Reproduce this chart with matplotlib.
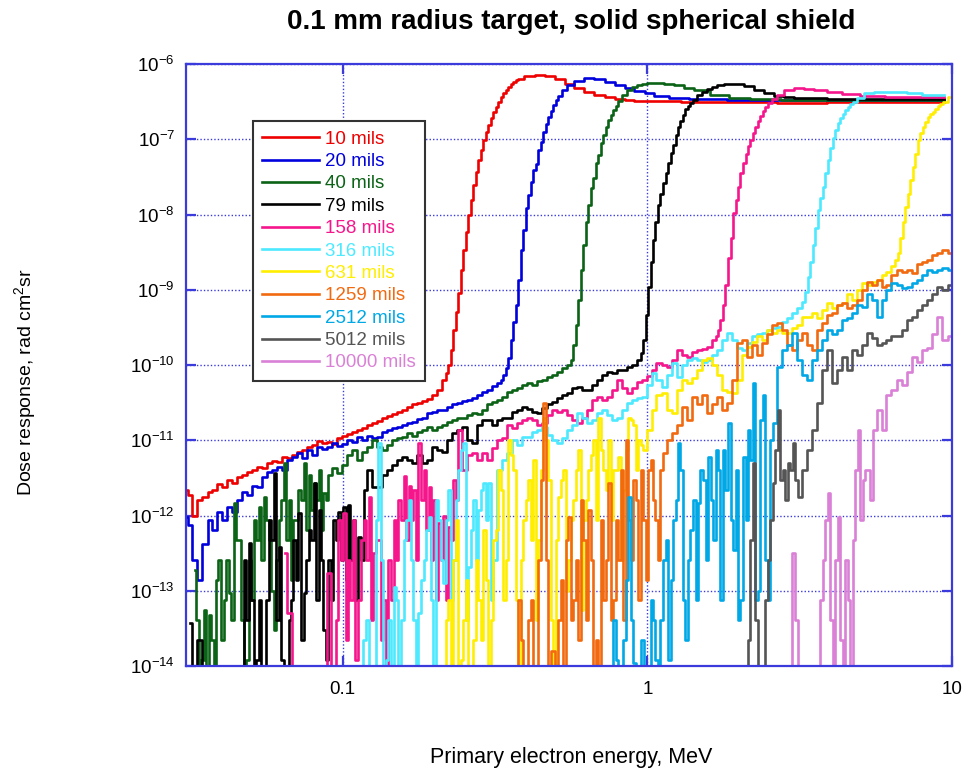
import matplotlib
matplotlib.use("Agg")
import matplotlib.pyplot as plt
from matplotlib.ticker import FixedLocator, NullLocator, LogFormatterSciNotation

plt.rcParams['font.family'] = ['Liberation Sans', 'DejaVu Sans']
plt.rcParams['mathtext.default'] = 'regular'
plt.rcParams['axes.unicode_minus'] = False

# (energy MeV, dose) pairs; 1e-15 marks points below the axis floor (no counts)
red_10 = [(0.0306,2.2e-12),(0.0315,1.9e-12),(0.0327,1.0e-12),(0.0340,1.6e-12),(0.0353,1.76e-12),(0.0367,2.05e-12),(0.0380,2.2e-12),(0.0395,2.6e-12),(0.0410,2.4e-12),(0.0426,3.0e-12),(0.0443,2.7e-12),(0.0460,3.2e-12),(0.0477,3.45e-12),(0.0496,3.8e-12),(0.0515,4.0e-12),(0.0535,4.4e-12),(0.0555,4.3e-12),(0.0577,5.0e-12),(0.0599,5.3e-12),(0.0622,5.15e-12),(0.0646,6.0e-12),(0.0670,5.8e-12),(0.0696,6.4e-12),(0.0723,7.0e-12),(0.0751,7.4e-12),(0.0780,8.1e-12),(0.0810,8.7e-12),(0.0841,9.7e-12),(0.0873,9.2e-12),(0.0906,9.4e-12),(0.0941,8.9e-12),(0.0977,1.06e-11),(0.1015,1.13e-11),(0.105,1.2e-11),(0.109,1.3e-11),(0.114,1.37e-11),(0.118,1.46e-11),(0.123,1.6e-11),(0.127,1.7e-11),(0.132,1.8e-11),(0.137,2.0e-11),(0.143,2.1e-11),(0.148,2.25e-11),(0.154,2.4e-11),(0.160,2.5e-11),(0.166,2.8e-11),(0.172,3.0e-11),(0.179,3.1e-11),(0.186,3.3e-11),(0.193,3.5e-11),(0.200,4.0e-11),(0.208,4.7e-11),(0.216,6.3e-11),(0.2201,7.8e-11),(0.224,1.0e-10),(0.2283,1.58e-10),(0.233,2.9e-10),(0.2374,5.1e-10),(0.242,9.1e-10),(0.2466,1.83e-9),(0.251,3.4e-9),(0.2558,5.85e-9),(0.261,9.8e-9),(0.2660,1.56e-8),(0.271,2.45e-8),(0.2762,3.67e-8),(0.281,5.3e-8),(0.2864,7.2e-8),(0.292,9.8e-8),(0.2976,1.25e-7),(0.303,1.55e-7),(0.3088,1.91e-7),(0.315,2.3e-7),(0.3210,2.7e-7),(0.327,3.1e-7),(0.3332,3.64e-7),(0.340,4.1e-7),(0.3465,4.5e-7),(0.353,4.95e-7),(0.3597,5.42e-7),(0.366,5.75e-7),(0.3730,6.1e-7),(0.380,6.3e-7),(0.410,6.9e-7),(0.443,7.1e-7),(0.477,6.9e-7),(0.515,6.3e-7),(0.555,5.4e-7),(0.598,4.8e-7),(0.645,4.2e-7),(0.696,3.9e-7),(0.751,3.6e-7),(0.810,3.45e-7),(0.873,3.3e-7),(0.941,3.2e-7),(1.09,3.2e-7),(1.48,3.1e-7),(2.16,3.1e-7),(3.15,3.05e-7),(4.60,3.1e-7),(6.70,3.1e-7),(9.42,3.1e-7)]

blue_20 = [(0.0306,9.5e-13),(0.0315,7.5e-13),(0.0327,2.6e-13),(0.0340,1.39e-13),(0.0353,4.2e-13),(0.0367,8.7e-13),(0.0380,6.4e-13),(0.0395,1.12e-12),(0.0410,8.7e-13),(0.0426,1.3e-12),(0.0443,1.12e-12),(0.0460,1.6e-12),(0.0477,2.05e-12),(0.0496,1.87e-12),(0.0515,2.5e-12),(0.0535,2.4e-12),(0.0555,3.2e-12),(0.0577,3.8e-12),(0.0599,4.0e-12),(0.0622,4.4e-12),(0.0646,4.0e-12),(0.0670,5.5e-12),(0.0696,6.0e-12),(0.0723,6.8e-12),(0.0751,5.8e-12),(0.0780,7.4e-12),(0.0810,6.4e-12),(0.0841,8.1e-12),(0.0873,7.7e-12),(0.0906,8.1e-12),(0.0941,9.2e-12),(0.0977,8.4e-12),(0.1015,8.9e-12),(0.105,1.0e-11),(0.109,9.4e-12),(0.114,1.1e-11),(0.118,1.0e-11),(0.123,1.13e-11),(0.127,1.06e-11),(0.132,1.1e-11),(0.137,1.3e-11),(0.143,1.37e-11),(0.148,1.46e-11),(0.154,1.5e-11),(0.160,1.6e-11),(0.166,1.7e-11),(0.172,1.75e-11),(0.179,1.9e-11),(0.186,2.0e-11),(0.193,2.3e-11),(0.200,2.35e-11),(0.208,2.5e-11),(0.216,2.5e-11),(0.224,2.8e-11),(0.233,3.0e-11),(0.242,3.1e-11),(0.251,3.3e-11),(0.261,3.4e-11),(0.271,3.6e-11),(0.281,4.0e-11),(0.292,4.4e-11),(0.303,4.7e-11),(0.315,5.3e-11),(0.327,5.8e-11),(0.3332,6.3e-11),(0.340,7.4e-11),(0.3465,9.1e-11),(0.353,1.24e-10),(0.3597,2.15e-10),(0.366,3.7e-10),(0.3730,6.3e-10),(0.380,1.35e-9),(0.3873,3.4e-9),(0.395,6.2e-9),(0.4025,1.22e-8),(0.410,1.8e-8),(0.4178,2.7e-8),(0.426,3.9e-8),(0.4341,4.7e-8),(0.443,7.2e-8),(0.4515,9.2e-8),(0.460,1.25e-7),(0.4688,1.6e-7),(0.477,2.0e-7),(0.4861,2.37e-7),(0.496,2.85e-7),(0.5055,3.3e-7),(0.515,3.75e-7),(0.535,4.5e-7),(0.555,5.3e-7),(0.598,5.95e-7),(0.645,6.5e-7),(0.696,6.3e-7),(0.751,5.75e-7),(0.810,5.3e-7),(0.873,4.8e-7),(0.941,4.35e-7),(1.02,4.1e-7),(1.09,3.75e-7),(1.27,3.5e-7),(1.48,3.45e-7),(2.16,3.3e-7),(3.15,3.3e-7),(4.60,3.35e-7),(6.70,3.3e-7),(9.42,3.3e-7)]

green_40 = [(0.0327,1.9e-13),(0.0340,1e-15),(0.0353,5.5e-14),(0.0367,4.8e-14),(0.0380,1e-15),(0.0395,2.6e-13),(0.0410,7.5e-14),(0.0426,9.3e-14),(0.0443,1.47e-12),(0.0460,4.7e-13),(0.0477,1e-15),(0.0496,2.6e-13),(0.0515,8.7e-13),(0.0535,1.3e-12),(0.0555,1.76e-12),(0.0577,4.7e-13),(0.0599,3.0e-14),(0.0622,8.7e-13),(0.0646,5.0e-12),(0.0670,1.6e-12),(0.0696,8.7e-13),(0.0723,2.2e-12),(0.0751,5.0e-12),(0.0780,3.45e-12),(0.0810,2.7e-12),(0.0841,4.0e-12),(0.0873,2.0e-12),(0.0906,3.45e-12),(0.0941,4.3e-12),(0.0977,3.7e-12),(0.1015,4.75e-12),(0.105,6.4e-12),(0.109,7.4e-12),(0.114,5.5e-12),(0.118,7.0e-12),(0.123,8.1e-12),(0.127,1.0e-11),(0.132,8.1e-12),(0.137,7.4e-12),(0.143,8.7e-12),(0.148,1.0e-11),(0.154,1.06e-11),(0.160,1.1e-11),(0.166,1.25e-11),(0.172,1.13e-11),(0.179,1.3e-11),(0.186,1.37e-11),(0.193,1.5e-11),(0.200,1.37e-11),(0.208,1.5e-11),(0.216,1.6e-11),(0.224,1.75e-11),(0.233,1.86e-11),(0.242,2.0e-11),(0.251,1.96e-11),(0.261,2.15e-11),(0.271,2.3e-11),(0.281,2.25e-11),(0.292,2.5e-11),(0.303,3.0e-11),(0.315,3.2e-11),(0.327,3.4e-11),(0.340,3.8e-11),(0.353,4.4e-11),(0.366,4.7e-11),(0.380,4.9e-11),(0.395,5.5e-11),(0.410,5.8e-11),(0.426,5.5e-11),(0.443,6.2e-11),(0.460,6.3e-11),(0.477,6.9e-11),(0.496,7.4e-11),(0.515,8.1e-11),(0.535,9.1e-11),(0.555,1.0e-10),(0.5656,1.16e-10),(0.576,1.86e-10),(0.5870,3.4e-10),(0.598,7.3e-10),(0.6094,1.83e-9),(0.622,3.9e-9),(0.6339,7.9e-9),(0.645,1.34e-8),(0.6573,2.25e-8),(0.670,3.1e-8),(0.6828,4.8e-8),(0.696,6.2e-8),(0.7093,8.9e-8),(0.723,1.14e-7),(0.7368,1.46e-7),(0.751,1.8e-7),(0.7653,2.1e-7),(0.780,2.45e-7),(0.7949,2.77e-7),(0.810,3.2e-7),(0.841,3.9e-7),(0.873,4.5e-7),(0.906,4.95e-7),(0.941,5.3e-7),(0.978,5.4e-7),(1.02,5.6e-7),(1.09,5.6e-7),(1.18,5.4e-7),(1.27,5.3e-7),(1.37,4.8e-7),(1.48,4.5e-7),(1.72,3.9e-7),(2.00,3.5e-7),(2.33,3.45e-7),(3.15,3.3e-7),(4.60,3.35e-7),(6.70,3.3e-7),(9.42,3.3e-7),
    (0.0333,4.1e-14),(0.0346,1.2e-14),(0.0360,1e-15),(0.0374,2.2e-14),(0.0387,1.39e-13),(0.0403,2.2e-14),(0.0418,2.6e-13),(0.0434,4.1e-14),(0.0451,4.7e-13),(0.0469,4.1e-14),(0.0486,1.2e-14),(0.0505,7.5e-14),(0.0525,4.7e-13),(0.0545,2.6e-13),(0.0566,8.7e-13),(0.0588,1.0e-13),(0.0610,2.6e-13),(0.0634,1.6e-12),(0.0658,4.7e-13),(0.0683,1.39e-13),(0.0709,8.7e-13),(0.0737,1.6e-12),(0.0765,6.4e-13),(0.0795,1.18e-12),(0.0825,1.6e-12),(0.0857,6.4e-13),(0.0890,1.6e-12)]

black_79 = [(0.0315,3.7e-14),(0.0327,1e-15),(0.0340,2.2e-14),(0.0353,1e-15),(0.0460,1e-15),(0.0477,2.6e-13),(0.0496,4.3e-13),(0.0515,1e-15),(0.0535,7.5e-14),(0.0555,1e-15),(0.0577,8.7e-13),(0.0599,3.7e-12),(0.0622,3.8e-13),(0.0646,1e-15),(0.0670,4.1e-14),(0.0696,4.7e-13),(0.0723,1.08e-12),(0.0751,9.3e-14),(0.0780,6.4e-13),(0.0810,2.7e-12),(0.0841,1.18e-12),(0.0873,3.0e-14),(0.0906,2.6e-13),(0.0941,8.7e-13),(0.0977,1.12e-12),(0.1015,1.3e-12),(0.105,1.4e-12),(0.109,8.7e-13),(0.114,5.2e-13),(0.118,2.2e-12),(0.123,4.0e-12),(0.127,2.4e-12),(0.132,2.4e-12),(0.137,3.45e-12),(0.143,4.0e-12),(0.148,4.75e-12),(0.154,5.5e-12),(0.160,6.0e-12),(0.166,5.5e-12),(0.172,5.0e-12),(0.179,6.4e-12),(0.186,5.0e-12),(0.193,5.5e-12),(0.200,8.1e-12),(0.208,7.4e-12),(0.216,7.0e-12),(0.224,1.0e-11),(0.233,1.25e-11),(0.242,1.37e-11),(0.251,1.5e-11),(0.261,1.0e-11),(0.271,9.2e-12),(0.281,1.6e-11),(0.292,1.86e-11),(0.303,1.86e-11),(0.315,1.6e-11),(0.327,1.86e-11),(0.340,1.96e-11),(0.353,2.0e-11),(0.366,2.4e-11),(0.380,2.5e-11),(0.395,2.8e-11),(0.410,2.6e-11),(0.426,2.4e-11),(0.443,2.3e-11),(0.460,2.7e-11),(0.477,3.0e-11),(0.496,3.2e-11),(0.515,3.6e-11),(0.535,4.0e-11),(0.555,4.2e-11),(0.576,4.9e-11),(0.598,5.1e-11),(0.622,4.7e-11),(0.645,4.7e-11),(0.670,5.5e-11),(0.696,6.3e-11),(0.723,7.4e-11),(0.751,8.1e-11),(0.780,7.8e-11),(0.810,8.6e-11),(0.841,8.6e-11),(0.873,9.4e-11),(0.906,1.0e-10),(0.941,1.16e-10),(0.959,1.44e-10),(0.978,2.15e-10),(0.997,4.6e-10),(1.02,1.09e-9),(1.035,2.34e-9),(1.05,4.6e-9),(1.074,7.9e-9),(1.09,1.34e-8),(1.116,1.87e-8),(1.14,2.6e-8),(1.159,3.56e-8),(1.18,4.8e-8),(1.203,6.6e-8),(1.23,8.4e-8),(1.249,1.14e-7),(1.27,1.46e-7),(1.297,1.75e-7),(1.32,2.1e-7),(1.347,2.5e-7),(1.37,2.75e-7),(1.398,3.0e-7),(1.43,3.3e-7),(1.48,3.9e-7),(1.54,4.2e-7),(1.60,4.65e-7),(1.66,4.95e-7),(1.72,5.3e-7),(1.86,5.4e-7),(2.00,5.4e-7),(2.16,5.1e-7),(2.33,4.5e-7),(2.51,4.1e-7),(2.71,3.75e-7),(2.92,3.6e-7),(3.15,3.5e-7),(4.60,3.45e-7),(6.70,3.45e-7),(9.42,3.4e-7),
    (0.0469,1e-15),(0.0486,4.1e-14),(0.0505,7.5e-14),(0.0525,1.2e-14),(0.0545,1e-15),(0.0566,7.5e-14),(0.0588,4.7e-13),(0.0610,4.1e-14),(0.0634,1.2e-14),(0.0658,1e-15),(0.0683,7.5e-14),(0.0709,1.39e-13),(0.0737,2.2e-14),(0.0765,2.6e-13),(0.0795,4.7e-13),(0.0825,7.5e-14),(0.0857,2.6e-13),(0.0890,1.2e-14),(0.0923,7.5e-14),(0.0959,4.7e-13),(0.0996,2.6e-13),(0.1035,1.39e-13),(0.1070,2.6e-13),(0.1111,7.5e-14),(0.1162,2.6e-13)]

pink_158 = [(0.0646,3.2e-13),(0.0670,5.1e-14),(0.0696,1e-15),(0.0873,1e-15),(0.0906,1.72e-13),(0.0941,1e-15),(0.0977,8.7e-13),(0.1015,1.08e-12),(0.105,2.6e-13),(0.109,8.7e-13),(0.114,7.5e-14),(0.118,8.7e-13),(0.123,1.76e-12),(0.127,3.2e-13),(0.132,4.7e-13),(0.137,7.5e-14),(0.143,2.6e-13),(0.148,8.7e-13),(0.154,1.6e-12),(0.160,3.3e-12),(0.166,2.5e-12),(0.172,2.2e-12),(0.179,9.2e-12),(0.186,4.0e-12),(0.193,2.4e-12),(0.200,1.6e-12),(0.208,7.9e-13),(0.216,1.0e-12),(0.224,7.0e-13),(0.233,3.0e-12),(0.242,1.37e-11),(0.251,4.0e-12),(0.261,6.4e-12),(0.271,6.8e-12),(0.281,5.5e-12),(0.292,6.8e-12),(0.303,5.5e-12),(0.315,7.9e-12),(0.327,1.0e-11),(0.340,1.06e-11),(0.353,1.6e-11),(0.366,1.46e-11),(0.380,1.7e-11),(0.395,1.86e-11),(0.410,2.0e-11),(0.426,1.86e-11),(0.443,1.6e-11),(0.460,1.7e-11),(0.477,2.15e-11),(0.496,2.5e-11),(0.515,2.4e-11),(0.535,2.5e-11),(0.555,2.15e-11),(0.576,1.86e-11),(0.598,1.7e-11),(0.622,1.96e-11),(0.645,2.5e-11),(0.670,3.4e-11),(0.696,3.8e-11),(0.723,3.4e-11),(0.751,3.8e-11),(0.780,4.7e-11),(0.810,6.3e-11),(0.841,4.9e-11),(0.873,4.2e-11),(0.906,4.9e-11),(0.941,5.9e-11),(0.978,6.3e-11),(1.02,7.2e-11),(1.05,8.6e-11),(1.09,1.06e-10),(1.14,1.0e-10),(1.18,9.4e-11),(1.23,1.16e-10),(1.27,1.58e-10),(1.32,1.36e-10),(1.37,1.28e-10),(1.43,1.5e-10),(1.48,1.58e-10),(1.54,1.65e-10),(1.60,1.73e-10),(1.66,2.15e-10),(1.691,2.43e-10),(1.72,2.9e-10),(1.754,4.0e-10),(1.79,6.3e-10),(1.820,1.16e-9),(1.86,2.64e-9),(1.892,4.9e-9),(1.93,1.05e-8),(1.965,1.56e-8),(2.00,2.3e-8),(2.039,3.56e-8),(2.08,4.8e-8),(2.120,6.4e-8),(2.16,8.1e-8),(2.200,9.8e-8),(2.24,1.21e-7),(2.285,1.46e-7),(2.33,1.75e-7),(2.371,2.04e-7),(2.42,2.37e-7),(2.461,2.7e-7),(2.51,3.0e-7),(2.61,3.45e-7),(2.71,3.9e-7),(2.92,4.5e-7),(3.15,4.8e-7),(3.40,4.65e-7),(3.66,4.5e-7),(4.10,4.2e-7),(4.60,4.0e-7),(5.35,3.75e-7),(6.70,3.6e-7),(9.42,3.6e-7),
    (0.0923,1e-15),(0.0959,4.1e-14),(0.0996,2.6e-13),(0.1035,2.2e-14),(0.1070,7.5e-14),(0.1111,1.2e-14),(0.1162,4.7e-13),(0.1203,2.6e-13),(0.1253,4.1e-14),(0.1294,4.7e-13),(0.1345,2.2e-14),(0.1396,1e-15),(0.1457,7.5e-14),(0.1508,2.6e-13),(0.1569,8.7e-13),(0.1631,4.7e-13),(0.1692,8.7e-13),(0.1753,2.6e-13),(0.1824,1.6e-12),(0.1896,6.4e-13),(0.1967,2.6e-13),(0.2038,7.5e-14),(0.2120,2.6e-13),(0.2201,7.5e-14),(0.2283,4.7e-13),(0.2374,1.6e-12)]

cyan_316 = [(0.114,1e-15),(0.118,2.2e-14),(0.123,1e-15),(0.127,1e-15),(0.132,9.2e-12),(0.137,1e-15),(0.143,4.1e-14),(0.148,1.12e-13),(0.154,1e-15),(0.160,4.7e-13),(0.166,1.6e-12),(0.172,4.1e-14),(0.179,5.1e-14),(0.186,2.6e-13),(0.193,9.5e-13),(0.200,1e-15),(0.208,8.7e-13),(0.216,1.27e-13),(0.224,2.2e-12),(0.233,2.6e-13),(0.242,4.0e-12),(0.251,9.2e-12),(0.261,2.1e-13),(0.271,1.6e-12),(0.281,1.18e-12),(0.292,2.7e-12),(0.303,2.7e-12),(0.315,2.6e-13),(0.327,4.0e-12),(0.340,5.5e-12),(0.353,6.8e-12),(0.366,1.0e-11),(0.380,8.7e-12),(0.395,1.1e-11),(0.410,1.1e-11),(0.426,1.3e-11),(0.443,1.37e-11),(0.460,1.5e-11),(0.477,1.17e-11),(0.496,1.0e-11),(0.515,9.2e-12),(0.535,1.06e-11),(0.555,1.37e-11),(0.576,1.6e-11),(0.598,2.3e-11),(0.622,1.96e-11),(0.645,1.7e-11),(0.670,1.86e-11),(0.696,2.3e-11),(0.723,2.5e-11),(0.751,2.15e-11),(0.780,1.86e-11),(0.810,1.96e-11),(0.841,2.5e-11),(0.873,3.1e-11),(0.906,3.4e-11),(0.941,3.6e-11),(0.978,3.8e-11),(1.02,5.5e-11),(1.05,7.8e-11),(1.09,6.3e-11),(1.14,5.1e-11),(1.18,7.4e-11),(1.23,1.06e-10),(1.27,6.9e-11),(1.32,1.0e-10),(1.37,1.16e-10),(1.43,1.24e-10),(1.48,1.16e-10),(1.54,1.1e-10),(1.60,1.16e-10),(1.66,1.36e-10),(1.72,1.58e-10),(1.79,2.15e-10),(1.86,2.7e-10),(1.93,2.15e-10),(2.00,1.68e-10),(2.08,1.58e-10),(2.16,1.96e-10),(2.24,2.4e-10),(2.33,2.55e-10),(2.42,2.7e-10),(2.51,2.9e-10),(2.61,3.1e-10),(2.71,3.2e-10),(2.81,3.7e-10),(2.92,4.2e-10),(3.03,4.9e-10),(3.15,5.75e-10),(3.27,6.9e-10),(3.335,9.3e-10),(3.40,1.48e-9),(3.462,2.34e-9),(3.53,3.9e-9),(3.595,6.6e-9),(3.66,1.15e-8),(3.734,1.66e-8),(3.80,2.3e-8),(3.878,3.56e-8),(3.95,5.3e-8),(4.027,7.7e-8),(4.10,1.04e-7),(4.182,1.33e-7),(4.26,1.64e-7),(4.343,1.91e-7),(4.43,2.17e-7),(4.511,2.45e-7),(4.60,2.7e-7),(4.684,2.95e-7),(4.77,3.1e-7),(4.96,3.5e-7),(5.35,4.1e-7),(5.77,4.2e-7),(6.70,4.2e-7),(7.51,4.1e-7),(8.41,3.9e-7),(9.42,3.9e-7),
    (0.1160,1e-15),(0.1205,4.1e-14),(0.1253,1e-15),(0.1294,8.7e-13),(0.1345,2.6e-13),(0.1396,1.2e-14),(0.1457,1e-15),(0.1508,7.5e-14),(0.1569,4.1e-14),(0.1631,8.7e-13),(0.1692,2.6e-13),(0.1753,1e-15),(0.1824,1.39e-13),(0.1896,6.4e-13),(0.1967,7.5e-14),(0.2038,1.6e-12),(0.2120,2.6e-13),(0.2201,8.7e-13),(0.2283,7.5e-14),(0.2374,1.6e-12),(0.2466,7.4e-12),(0.2558,4.1e-14),(0.2660,6.4e-13),(0.2762,2.6e-13),(0.2864,2.2e-12),(0.2976,8.7e-13),(0.3088,7.5e-14)]

yellow_631 = [(0.216,1e-15),(0.224,7.5e-14),(0.233,2.6e-13),(0.242,1e-15),(0.251,4.1e-14),(0.261,1e-15),(0.271,2.2e-14),(0.281,7.5e-14),(0.292,6.4e-13),(0.303,1e-15),(0.315,4.7e-13),(0.327,4.0e-12),(0.340,7.5e-14),(0.353,1.0e-11),(0.366,4.0e-12),(0.380,1e-15),(0.395,8.7e-13),(0.410,3.0e-12),(0.426,5.5e-12),(0.443,4.7e-13),(0.460,2.0e-11),(0.477,3.0e-12),(0.496,1e-15),(0.515,1.76e-12),(0.535,4.0e-12),(0.555,2.6e-13),(0.576,1.6e-12),(0.598,7.4e-12),(0.622,8.7e-13),(0.645,4.0e-12),(0.670,1.0e-11),(0.696,2.0e-11),(0.723,4.0e-12),(0.751,1.0e-11),(0.780,4.0e-12),(0.810,6.0e-12),(0.841,2.2e-12),(0.873,2.0e-11),(0.906,1.6e-11),(0.941,1.0e-11),(0.978,7.4e-12),(1.02,1.37e-11),(1.05,2.5e-11),(1.09,4.0e-11),(1.14,4.2e-11),(1.18,2.5e-11),(1.23,2.3e-11),(1.27,4.7e-11),(1.32,6.3e-11),(1.37,5.8e-11),(1.43,6.7e-11),(1.48,8.6e-11),(1.54,1.16e-10),(1.60,1.24e-10),(1.66,1.0e-10),(1.72,7.4e-11),(1.79,4.7e-11),(1.86,4.4e-11),(1.93,4.2e-11),(2.00,6.3e-11),(2.08,1.36e-10),(2.16,1.73e-10),(2.24,2.0e-10),(2.33,2.4e-10),(2.42,2.15e-10),(2.51,2.9e-10),(2.61,2.7e-10),(2.71,2.9e-10),(2.81,2.7e-10),(2.92,2.7e-10),(3.03,3.1e-10),(3.15,3.4e-10),(3.27,4.3e-10),(3.40,4.3e-10),(3.53,4.9e-10),(3.66,4.2e-10),(3.80,5.4e-10),(3.95,6.7e-10),(4.10,5.75e-10),(4.26,6.3e-10),(4.43,6.7e-10),(4.60,8.7e-10),(4.77,7.3e-10),(4.96,1.0e-9),(5.15,1.23e-9),(5.35,1.16e-9),(5.55,1.27e-9),(5.77,1.35e-9),(5.98,1.58e-9),(6.21,1.73e-9),(6.45,2.1e-9),(6.576,2.5e-9),(6.70,3.1e-9),(6.826,4.9e-9),(6.96,7.9e-9),(7.086,1.26e-8),(7.23,1.9e-8),(7.355,2.9e-8),(7.51,4.3e-8),(7.634,6.4e-8),(7.80,9.8e-8),(7.925,1.21e-7),(8.09,1.46e-7),(8.226,1.7e-7),(8.41,2.0e-7),(8.539,2.17e-7),(8.73,2.3e-7),(8.863,2.5e-7),(9.07,2.77e-7),(9.200,2.95e-7),(9.42,3.1e-7),(10.0,3.6e-7),
    (0.2201,4.1e-14),(0.2283,1e-15),(0.2374,8.7e-13),(0.2466,1.2e-14),(0.2558,1.39e-13),(0.2660,1e-15),(0.2762,2.6e-13),(0.2864,2.2e-14),(0.2976,1.39e-13),(0.3088,4.1e-14),(0.3210,6.4e-13),(0.3332,2.2e-12),(0.3465,2.6e-13),(0.3597,6.4e-12),(0.3730,7.5e-14),(0.3873,2.6e-13),(0.4025,1.6e-12),(0.4178,4.7e-13),(0.4341,4.1e-14),(0.4515,4.0e-12),(0.4688,1.0e-11),(0.4861,4.1e-14),(0.5055,4.7e-13),(0.5248,3.0e-12),(0.5452,1.0e-13),(0.5656,8.7e-13),(0.5870,4.0e-12),(0.6094,5.5e-14),(0.6339,1.6e-12),(0.6573,6.4e-12),(0.6828,8.7e-13),(0.7093,7.4e-12),(0.7368,2.2e-12),(0.7653,8.7e-13),(0.7949,4.0e-12),(0.8255,2.6e-13),(0.8571,7.4e-12),(0.8897,1.86e-11),(0.9233,4.0e-12),(0.959,8.7e-12)]

orange_1259 = [(0.366,1e-15),(0.380,7.5e-14),(0.395,1e-15),(0.410,4.1e-14),(0.426,1e-15),(0.443,2.6e-13),(0.460,3.1e-11),(0.477,1e-15),(0.515,4.1e-14),(0.535,1e-15),(0.555,9.5e-13),(0.576,7.5e-14),(0.598,2.2e-14),(0.622,4.7e-13),(0.645,1.18e-12),(0.670,1e-15),(0.696,1e-15),(0.723,7.5e-14),(0.751,2.7e-12),(0.780,7.5e-14),(0.810,2.6e-13),(0.841,4.1e-14),(0.873,8.7e-13),(0.906,3.0e-12),(0.941,7.5e-14),(0.978,8.7e-13),(1.02,4.0e-12),(1.05,1.6e-12),(1.09,2.6e-13),(1.14,6.8e-12),(1.18,1.0e-11),(1.23,1.25e-11),(1.27,1.6e-11),(1.32,2.8e-11),(1.37,1.86e-11),(1.43,3.8e-11),(1.48,3.0e-11),(1.54,4.0e-11),(1.60,2.3e-11),(1.66,3.0e-11),(1.72,3.8e-11),(1.79,2.5e-11),(1.86,3.1e-11),(1.93,6.3e-11),(2.00,1.96e-10),(2.08,2.15e-10),(2.16,1.28e-10),(2.24,1.86e-10),(2.33,1.36e-10),(2.42,1.96e-10),(2.51,2.55e-10),(2.61,3.4e-10),(2.71,3.6e-10),(2.81,2.9e-10),(2.92,1.86e-10),(3.03,1.58e-10),(3.15,2.15e-10),(3.27,2.7e-10),(3.40,1.86e-10),(3.53,1.58e-10),(3.66,2.9e-10),(3.80,3.6e-10),(3.95,4.6e-10),(4.10,4.9e-10),(4.26,6.3e-10),(4.43,6.7e-10),(4.60,5.75e-10),(4.77,6.3e-10),(4.96,7.3e-10),(5.15,1.0e-9),(5.35,1.27e-9),(5.55,1.16e-9),(5.77,1.35e-9),(5.98,1.09e-9),(6.21,1.16e-9),(6.45,1.58e-9),(6.70,1.83e-9),(6.96,1.73e-9),(7.23,1.83e-9),(7.51,1.67e-9),(7.80,2.2e-9),(8.09,2.35e-9),(8.41,2.5e-9),(8.73,2.9e-9),(9.07,3.1e-9),(9.42,3.4e-9),(10.0,3.1e-9),
    (0.3730,1e-15),(0.3873,2.2e-14),(0.4025,1e-15),(0.4178,7.5e-14),(0.4341,1e-15),(0.4515,3.0e-12),(0.4688,2.6e-13),(0.4861,1.6e-14),(0.5055,1e-15),(0.5248,1.39e-13),(0.5452,4.7e-13),(0.5656,4.1e-14),(0.5870,2.6e-13),(0.6094,1.6e-12),(0.6339,4.1e-14),(0.6573,2.6e-13),(0.6828,2.2e-14),(0.7093,8.7e-13),(0.7368,2.6e-13),(0.7653,4.1e-14),(0.7949,8.7e-13),(0.8255,4.0e-12),(0.8571,1.0e-11),(0.8897,2.6e-13),(0.9233,1.6e-12),(0.959,4.0e-12),(0.997,1.39e-13),(1.035,5.5e-12),(1.074,8.7e-13),(1.116,4.0e-12)]

ltblue_2512 = [(0.751,1e-15),(0.780,4.1e-14),(0.810,1e-15),(0.841,2.2e-14),(0.873,1.76e-12),(0.906,1.1e-14),(0.941,1e-15),(1.02,1e-15),(1.05,4.1e-14),(1.09,1e-15),(1.14,2.6e-13),(1.18,1.2e-14),(1.23,8.7e-13),(1.27,9.2e-12),(1.32,7.5e-14),(1.37,2.6e-13),(1.43,1.6e-12),(1.48,1.47e-12),(1.54,3.0e-12),(1.60,6.0e-12),(1.66,4.7e-13),(1.72,4.0e-12),(1.79,7.4e-12),(1.86,1.7e-11),(1.93,3.5e-13),(2.00,4.1e-14),(2.08,6.0e-12),(2.16,1.37e-11),(2.24,5.8e-11),(2.33,1.0e-13),(2.42,4.0e-11),(2.51,7.5e-14),(2.61,1.7e-11),(2.71,9.4e-11),(2.81,1.58e-10),(2.92,1.86e-10),(3.03,2.7e-10),(3.15,1.16e-10),(3.27,7.4e-11),(3.40,6.3e-11),(3.53,1.16e-10),(3.66,1.58e-10),(3.80,2.15e-10),(3.95,2.9e-10),(4.10,2.55e-10),(4.26,2.9e-10),(4.43,4.0e-10),(4.60,4.2e-10),(4.77,4.9e-10),(4.96,6.3e-10),(5.15,5.9e-10),(5.35,8.7e-10),(5.55,7.3e-10),(5.77,4.3e-10),(5.98,7.3e-10),(6.21,1.0e-9),(6.45,1.23e-9),(6.70,1.16e-9),(6.96,1.06e-9),(7.23,1.09e-9),(7.51,1.23e-9),(7.80,1.35e-9),(8.09,1.58e-9),(8.41,1.83e-9),(8.73,1.73e-9),(9.07,1.83e-9),(9.42,1.96e-9),(10.0,1.83e-9),
    (0.7653,1e-15),(0.7949,1.2e-14),(0.8255,1e-15),(0.8571,1.39e-13),(0.8897,4.1e-14),(0.9233,1e-15),(0.959,2.2e-14),(0.997,1e-15),(1.035,7.5e-14),(1.074,1.2e-14),(1.116,4.1e-14),(1.159,4.7e-13),(1.203,1.39e-13),(1.249,1.6e-12),(1.297,4.0e-12),(1.347,2.2e-14),(1.398,6.4e-13),(1.452,7.5e-14),(1.508,4.0e-12),(1.566,2.6e-13),(1.626,1.6e-12),(1.691,7.4e-12),(1.754,7.5e-14),(1.820,2.2e-12),(1.892,8.7e-13),(1.965,4.0e-12),(2.039,7.5e-14),(2.120,8.7e-13),(2.200,5.5e-12),(2.285,7.5e-14),(2.371,1.86e-11),(2.461,2.6e-13),(2.555,1.0e-11)]

gray_5012 = [(2.08,1e-15),(2.16,2.2e-14),(2.24,5.0e-12),(2.33,1e-15),(2.42,1e-15),(2.51,2.6e-13),(2.61,2.7e-12),(2.71,2.5e-11),(2.81,4.0e-12),(2.92,5.0e-12),(3.03,9.2e-12),(3.15,1.76e-12),(3.27,4.0e-12),(3.40,7.4e-12),(3.53,1.37e-11),(3.66,3.1e-11),(3.80,8.6e-11),(3.95,1.58e-10),(4.10,5.8e-11),(4.26,8.6e-11),(4.43,1.28e-10),(4.60,8.6e-11),(4.77,1.58e-10),(4.96,1.36e-10),(5.15,1.86e-10),(5.35,2.7e-10),(5.55,2.3e-10),(5.77,1.86e-10),(5.98,1.96e-10),(6.21,2.15e-10),(6.45,2.4e-10),(6.70,2.4e-10),(6.96,2.9e-10),(7.23,4.0e-10),(7.51,4.3e-10),(7.80,5.4e-10),(8.09,6.3e-10),(8.41,7.3e-10),(8.73,8.7e-10),(9.07,1.09e-9),(9.42,1.0e-9),(10.0,1.16e-9),
    (2.120,1e-15),(2.200,4.7e-13),(2.285,4.1e-14),(2.371,1e-15),(2.461,7.5e-14),(2.555,8.7e-13),(2.652,7.4e-12),(2.755,3.0e-12),(2.859,1.6e-12),(2.969,4.0e-12),(3.083,3.0e-12)]

violet_10000 = [(2.92,1e-15),(3.03,3.2e-13),(3.15,1e-15),(3.66,1e-15),(3.80,2.6e-13),(3.95,2.0e-12),(4.10,1e-15),(4.26,9.5e-13),(4.43,1e-15),(4.60,7.5e-14),(4.77,4.7e-13),(4.96,1.37e-11),(5.15,3.0e-12),(5.35,4.0e-12),(5.55,1.37e-11),(5.77,2.5e-11),(5.98,1.37e-11),(6.21,4.0e-11),(6.45,4.7e-11),(6.70,6.3e-11),(6.96,5.5e-11),(7.23,8.1e-11),(7.51,1.28e-10),(7.80,1.1e-10),(8.09,1.58e-10),(8.41,1.68e-10),(8.73,2.55e-10),(9.07,4.3e-10),(9.42,2.15e-10),(10.0,2.4e-10),
    (3.083,4.1e-14),(3.201,1e-15),(3.734,7.5e-14),(3.878,8.7e-13),(4.027,4.1e-14),(4.182,2.6e-13),(4.343,2.2e-14),(4.511,2.6e-13),(4.684,1e-15),(4.866,4.0e-12),(5.052,8.7e-13),(5.246,4.0e-12),(5.447,1.6e-12)]

series_labels = ["10 mils", "20 mils", "40 mils", "79 mils", "158 mils", "316 mils",
                 "631 mils", "1259 mils", "2512 mils", "5012 mils", "10000 mils"]
series_data = [red_10, blue_20, green_40, black_79, pink_158, cyan_316,
               yellow_631, orange_1259, ltblue_2512, gray_5012, violet_10000]
series_colors = ["#ee0000", "#0000dd", "#0b6316", "#000000", "#f5168c", "#4deaff",
                 "#ffee00", "#f26a10", "#00a8e6", "#555555", "#da80d6"]

x_ticks = [0.1, 1, 10]
x_tick_labels = ["0.1", "1", "10"]
y_ticks = [1e-14, 1e-13, 1e-12, 1e-11, 1e-10, 1e-9, 1e-8, 1e-7, 1e-6]

BLUE = "#3b3bdc"

fig = plt.figure(figsize=(9.69, 7.73), dpi=100)
ax = fig.add_axes([186/969, 1-666/773, (952-186)/969, (666-64)/773])

handles = []
for data, lab, col in zip(series_data, series_labels, series_colors):
    pts = sorted(data)
    xs = [p[0] for p in pts]
    ys = [p[1] for p in pts]
    h, = ax.plot(xs, ys, color=col, lw=1.9, drawstyle='steps-mid', label=lab)
    handles.append(h)

ax.set_xscale('log')
ax.set_yscale('log')
ax.set_xlim(0.0306, 10)
ax.set_ylim(1e-14, 1e-6)

ax.xaxis.set_major_locator(FixedLocator(x_ticks))
ax.set_xticklabels(x_tick_labels)
ax.xaxis.set_minor_locator(NullLocator())
ax.yaxis.set_major_locator(FixedLocator(y_ticks))
ax.yaxis.set_major_formatter(LogFormatterSciNotation())
ax.yaxis.set_minor_locator(NullLocator())

ax.grid(True, which='major', color=BLUE, linestyle=(0, (1, 1.5)), linewidth=1.0)
for s in ax.spines.values():
    s.set_color(BLUE)
    s.set_linewidth(1.6)
ax.tick_params(which='major', direction='in', length=7, width=1.6, color=BLUE,
               top=True, right=True, labelsize=13.5, pad=8)
ax.tick_params(axis='x', pad=11)

leg = ax.legend(handles=handles, loc='upper left', bbox_to_anchor=(0.0875, 0.905),
                borderaxespad=0, fontsize=13.5, frameon=True, fancybox=False,
                edgecolor='#333333', framealpha=1, handlelength=3.0, handletextpad=0.35,
                labelspacing=0.28, borderpad=0.5)
leg.get_frame().set_linewidth(1.5)
for txt, col in zip(leg.get_texts(), series_colors):
    txt.set_color(col)

fig.text(571/969, 1-22/773, "0.1 mm radius target, solid spherical shield",
         ha='center', va='center', fontsize=20, fontweight='bold')
fig.text(571/969, 1-757/773, "Primary electron energy, MeV",
         ha='center', va='center', fontsize=15.5)
fig.text(25/969, 1-382/773, "Dose response, rad cm$^2$sr",
         ha='center', va='center', rotation=90, fontsize=14)

fig.savefig("out.png", dpi=100)
